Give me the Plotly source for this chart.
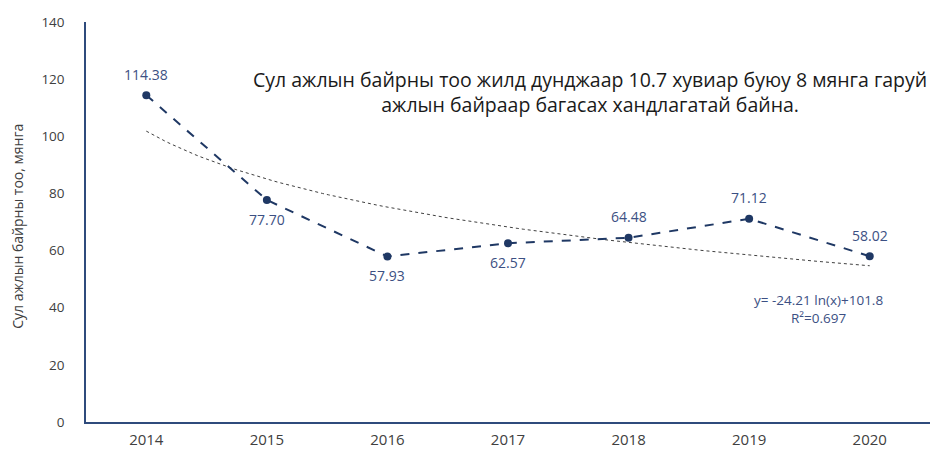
import numpy as np
import plotly.graph_objects as go

years = ["2014", "2015", "2016", "2017", "2018", "2019", "2020"]
values = [114.38, 77.70, 57.93, 62.57, 64.48, 71.12, 58.02]
label_above = [True, False, False, False, True, True, True]
y_ticks = [0, 20, 40, 60, 80, 100, 120, 140]

xs = np.arange(1, len(values) + 1)
# logarithmic trendline fitted to the data
b, a = np.polyfit(np.log(xs), values, 1)
xf = np.linspace(1, len(values), 120)
yf = a + b * np.log(xf)

FONT = "Open Sans"
NAVY = "#1f3864"
LABEL = "#3c5083"

fig = go.Figure()
fig.add_trace(go.Scatter(
    x=xf, y=yf, mode="lines",
    line=dict(color="#404040", width=1, dash="dot"),
    hoverinfo="skip", showlegend=False))
fig.add_trace(go.Scatter(
    x=xs, y=values, mode="lines+markers",
    line=dict(color=NAVY, width=2, dash="dash"),
    marker=dict(color=NAVY, size=8),
    showlegend=False))

for xv, v, up in zip(xs, values, label_above):
    fig.add_annotation(
        x=xv, y=v, text=f"{v:.2f}", showarrow=False, xanchor="center",
        yshift=21 if up else -19,
        font=dict(family=FONT, size=14, color=LABEL))

fig.add_annotation(
    x=0.597, y=0.825, xref="paper", yref="paper", showarrow=False,
    xanchor="center", yanchor="middle",
    text="Сул ажлын байрны тоо жилд дунджаар 10.7 хувиар буюу 8 мянга гаруй<br>ажлын байраар багасах хандлагатай байна.",
    font=dict(family=FONT, size=19.5, color="#1a1a1a"), align="center")
fig.add_annotation(
    x=0.868, y=0.283, xref="paper", yref="paper", showarrow=False,
    xanchor="center", yanchor="middle",
    text="y= -24.21 ln(x)+101.8<br>R²=0.697",
    font=dict(family=FONT, size=13.5, color=LABEL), align="center")
fig.add_annotation(
    x=-0.082, y=0.49, xref="paper", yref="paper", showarrow=False,
    xanchor="center", yanchor="middle",
    text="Сул ажлын байрны тоо, мянга", textangle=-90,
    font=dict(family=FONT, size=14, color="#404040"))

fig.update_layout(
    width=937, height=451,
    margin=dict(l=86, r=7, t=22, b=29),
    plot_bgcolor="white", paper_bgcolor="white",
    font=dict(family=FONT, size=14, color="#404040"),
)
fig.update_xaxes(
    range=[0.5, 7.5], tickvals=list(xs), ticktext=years, automargin=False,
    showgrid=False, zeroline=False, showline=True,
    linecolor="#2f4b7c", linewidth=1.5, ticks="", ticklabelstandoff=3,
    tickfont=dict(family=FONT, size=15, color="#404040"))
fig.update_yaxes(
    range=[0, 140], tickvals=y_ticks, automargin=False,
    showgrid=False, zeroline=False, showline=True,
    linecolor="#2f4b7c", linewidth=1.5, ticks="", ticklabelstandoff=17,
    tickfont=dict(family=FONT, size=13.5, color="#404040"))

fig.write_html(
    "out.html",
    config={"displayModeBar": False},
    post_script="document.body.style.margin='0';document.body.style.overflow='hidden';")
